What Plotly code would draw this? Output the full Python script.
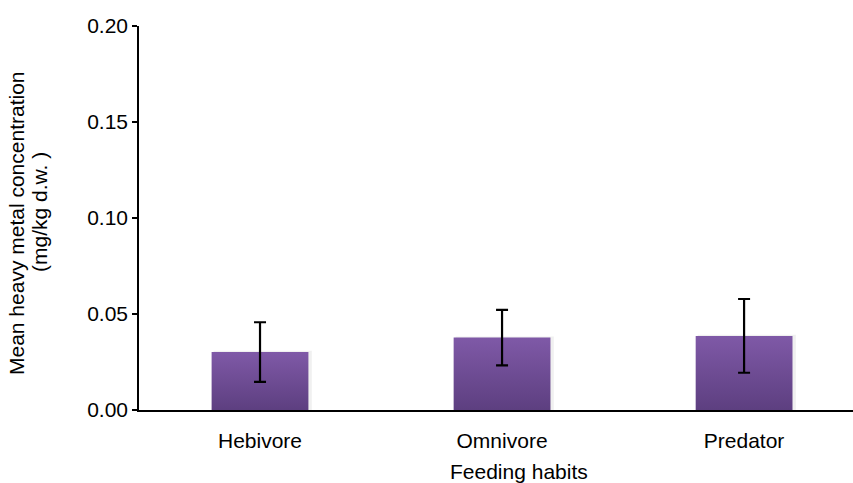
import plotly.graph_objects as go

# Mean concentration by feeding habit, with standard deviation
habits = ["Hebivore", "Omnivore", "Predator"]
mean_conc = [0.0302, 0.0377, 0.0386]
sd_conc = [0.0155, 0.0145, 0.0192]
y_ticks = [0.00, 0.05, 0.10, 0.15, 0.20]

BAR_HALF = 0.2
FONT = "Liberation Sans, Arial, sans-serif"

# plot-area geometry in pixels, used to place the free-standing titles
PLOT_L, PLOT_W, PLOT_B, PLOT_H = 139, 714, 410, 384


def px_x(px):
    return (px - PLOT_L) / PLOT_W


def px_y(py):
    return (PLOT_B - py) / PLOT_H


fig = go.Figure()

# bars as filled outlines so each can carry a vertical gradient
for i, (name, v) in enumerate(zip(habits, mean_conc)):
    # soft drop shadow
    fig.add_trace(go.Scatter(
        x=[i - BAR_HALF + 0.008, i + BAR_HALF + 0.014, i + BAR_HALF + 0.014,
           i - BAR_HALF + 0.008, i - BAR_HALF + 0.008],
        y=[0, 0, v + 0.0006, v + 0.0006, 0],
        mode="lines", fill="toself", line=dict(width=0),
        fillcolor="rgba(0,0,0,0.06)", hoverinfo="skip", showlegend=False,
    ))
    fig.add_trace(go.Scatter(
        x=[i - BAR_HALF, i + BAR_HALF, i + BAR_HALF, i - BAR_HALF, i - BAR_HALF],
        y=[0, 0, v, v, 0],
        mode="lines", fill="toself", line=dict(width=0),
        fillgradient=dict(type="vertical",
                          colorscale=[[0, "#5d3f80"], [1, "#7f59a7"]]),
        name=name, showlegend=False,
    ))

# error bars
fig.add_trace(go.Scatter(
    x=list(range(len(habits))), y=mean_conc, mode="markers",
    marker=dict(size=1, color="rgba(0,0,0,0)"),
    error_y=dict(type="data", array=sd_conc, visible=True,
                 color="black", thickness=2.2, width=6),
    showlegend=False,
))

fig.update_layout(
    width=853, height=483,
    margin=dict(l=PLOT_L, r=0, t=26, b=73),
    paper_bgcolor="white", plot_bgcolor="white",
    font=dict(family=FONT, size=21, color="black"),
    xaxis=dict(
        range=[-0.5, 2.45],
        tickmode="array", tickvals=list(range(len(habits))), ticktext=habits,
        showgrid=False, zeroline=False,
        showline=True, linecolor="black", linewidth=2,
        ticks="", ticklabelstandoff=11,
        tickfont=dict(size=21),
    ),
    yaxis=dict(
        range=[0, 0.2],
        tickmode="array", tickvals=y_ticks,
        ticktext=[f"{t:.2f}" for t in y_ticks],
        showgrid=False, zeroline=False,
        showline=True, linecolor="black", linewidth=1.5,
        ticks="outside", ticklen=5, tickwidth=1.5, tickcolor="black",
        tickfont=dict(size=21),
    ),
    annotations=[
        dict(text="Mean heavy metal concentration",
             xref="paper", yref="paper",
             x=px_x(17), y=px_y(223),
             xanchor="center", yanchor="middle", textangle=-90,
             showarrow=False, font=dict(size=21)),
        dict(text="(mg/kg d.w. )",
             xref="paper", yref="paper",
             x=px_x(39), y=px_y(212),
             xanchor="center", yanchor="middle", textangle=-90,
             showarrow=False, font=dict(size=21)),
        dict(text="Feeding habits",
             xref="paper", yref="paper",
             x=px_x(519), y=px_y(471),
             xanchor="center", yanchor="middle",
             showarrow=False, font=dict(size=21)),
    ],
)

fig.write_html("out.html")
